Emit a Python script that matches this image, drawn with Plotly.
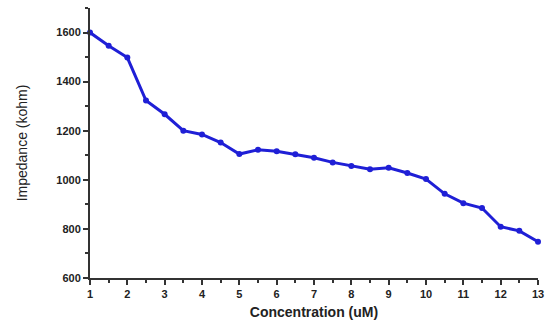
import plotly.graph_objects as go

concentration = [1, 1.5, 2, 2.5, 3, 3.5, 4, 4.5, 5, 5.5, 6, 6.5, 7, 7.5, 8,
                 8.5, 9, 9.5, 10, 10.5, 11, 11.5, 12, 12.5, 13]
impedance = [1600, 1546, 1498, 1323, 1267, 1200, 1185, 1152, 1105, 1122, 1116,
             1104, 1090, 1071, 1056, 1043, 1049, 1028, 1003, 943, 905, 885,
             809, 792, 748]
x_ticks = list(range(1, 14))
y_ticks = [600, 800, 1000, 1200, 1400, 1600]

fig = go.Figure()
fig.add_trace(go.Scatter(
    x=concentration, y=impedance, mode="lines+markers",
    line=dict(color="#1f1fd6", width=3),
    marker=dict(color="#1f1fd6", size=6),
    cliponaxis=False, showlegend=False,
))

axis_font = dict(family="Liberation Sans", size=11, color="#222222")
fig.update_layout(
    width=545, height=322,
    margin=dict(l=90, r=7, t=8, b=44, autoexpand=False),
    paper_bgcolor="white", plot_bgcolor="white",
    font=dict(family="Liberation Sans", color="#222222"),
    xaxis=dict(
        range=[1, 13], tickvals=x_ticks, ticktext=[f"<b>{v}</b>" for v in x_ticks],
        showgrid=False, zeroline=False, showline=True, linecolor="#333333", linewidth=2,
        ticks="outside", ticklen=5, tickwidth=2, tickcolor="#333333",
        minor=dict(dtick=0.5, ticks="outside", ticklen=3, tickwidth=2, tickcolor="#333333"),
        tickfont=axis_font, automargin=True,
        title=dict(text="<b>Concentration (uM)</b>", font=dict(family="Liberation Sans", size=14, color="#222222"), standoff=8),
    ),
    yaxis=dict(
        range=[600, 1700], tickvals=y_ticks, ticktext=[f"<b>{v}</b>" for v in y_ticks],
        showgrid=False, zeroline=False, showline=True, linecolor="#333333", linewidth=2,
        ticks="outside", ticklen=5, tickwidth=2, tickcolor="#333333",
        minor=dict(dtick=100, ticks="outside", ticklen=3, tickwidth=2, tickcolor="#333333"),
        tickfont=axis_font, automargin=True,
        title=dict(text="Impedance (kohm)", font=dict(family="Liberation Sans", size=14, color="#222222"), standoff=25),
    ),
)

fig.write_html(
    "out.html",
    config={"displayModeBar": False},
    post_script="document.body.style.margin='0';document.body.style.overflow='hidden';",
)
